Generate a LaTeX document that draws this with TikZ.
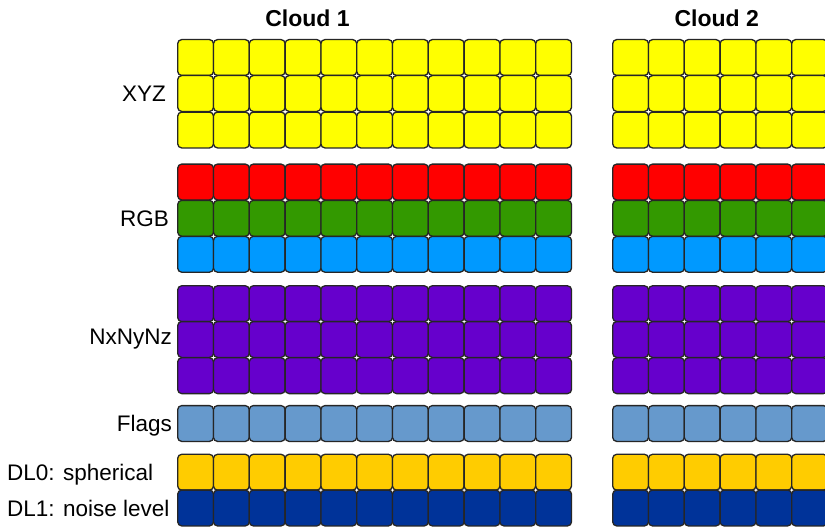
\documentclass[tikz,border=0pt]{standalone}
\usepackage{fontspec}
\setmainfont{Liberation Sans}
\usepackage{xcolor}
\usetikzlibrary{positioning}
\definecolor{cyellow}{HTML}{FFFF00}
\definecolor{cred}{HTML}{FF0000}
\definecolor{cgreen}{HTML}{339900}
\definecolor{cblue}{HTML}{0099FF}
\definecolor{cpurple}{HTML}{6600CC}
\definecolor{cflags}{HTML}{6699CC}
\definecolor{cgold}{HTML}{FFCC00}
\definecolor{cnavy}{HTML}{003399}

\tikzset{
  cell/.style={draw=black!85,line width=1.3pt,rounded corners=4pt,
               minimum width=35.8pt,minimum height=35.8pt,inner sep=0pt},
  lbl/.style={inner sep=0pt,font=\fontsize{22.5}{26}\selectfont},
  title/.style={inner sep=0pt,font=\fontsize{23}{26}\selectfont\bfseries}
}

\begin{document}
\begin{tikzpicture}[x=1pt,y=-1pt]
  \clip (0,0) rectangle (825,527);
  \fill[white] (0,0) rectangle (825,527);

  % one row of cells per attribute, both clouds
  \foreach \y/\col [count=\r] in {57.5/cyellow,93.5/cyellow,130/cyellow,
      182/cred,218.3/cgreen,254.3/cblue,
      303.7/cpurple,339.5/cpurple,375.7/cpurple,
      423.5/cflags,472.2/cgold,508/cnavy}{
    \foreach \i in {1,...,11}
      \node[cell,fill=\col] (a\r-\i) at ({177.7+35.8*(\i-0.5)},\y) {};
    \foreach \i in {1,...,6}
      \node[cell,fill=\col] (b\r-\i) at ({612.7+35.8*(\i-0.5)},\y) {};
  }

  \node[title] (cloud1) at (307.5,18) {Cloud 1};
  \node[title] (cloud2) at (716.7,18) {Cloud 2};

  \node[lbl,left=11pt of a2-1] (xyz) {XYZ};
  \node[lbl,left=8pt of a5-1] (rgb) {RGB};
  \node[lbl,left=5pt of a8-1] (normals) {NxNyNz};
  \node[lbl,left=5pt of a10-1,yshift=-2pt] (flags) {Flags};
  \node[lbl,anchor=west] (dl0) at (7,475) {DL0: spherical};
  \node[lbl,anchor=west] (dl1) at (7,508) {DL1: noise level};
\end{tikzpicture}
\end{document}
